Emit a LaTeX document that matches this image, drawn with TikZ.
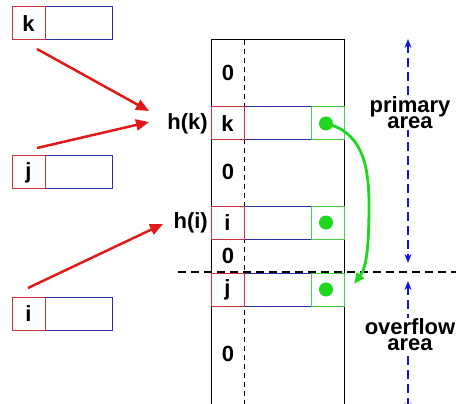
\documentclass[tikz,border=0pt]{standalone}
\usepackage{fontspec}
\setmainfont{Liberation Sans}
\usetikzlibrary{arrows.meta}
\definecolor{cred}{RGB}{205,50,60}
\definecolor{cblue}{RGB}{45,45,170}
\definecolor{cgreen}{RGB}{70,205,70}
\definecolor{ared}{RGB}{225,25,25}
\definecolor{dgreen}{RGB}{30,215,30}
\definecolor{dblue}{RGB}{20,20,215}
\begin{document}
\begin{tikzpicture}[x=1pt,y=-1pt,
  txt/.style={font=\fontsize{22}{22}\selectfont\bfseries, inner sep=0pt},
  areatxt/.style={font=\fontsize{22}{16.5}\selectfont\bfseries, inner sep=1pt, align=center, fill=white},
  keycell/.style={txt, draw=cred, line width=1pt, minimum width=33pt, minimum height=33pt},
  valcell/.style={draw=cblue, line width=1pt, minimum width=67pt, minimum height=33pt, inner sep=0pt},
  ptrcell/.style={draw=cgreen, line width=1pt, minimum width=33pt, minimum height=33pt, inner sep=0pt},
  dot/.style={circle, fill=dgreen, minimum size=14pt, inner sep=0pt},
  redarrow/.style={draw=ared, line width=2.5pt, -{Triangle[length=13pt,width=11pt]}},
  greenarrow/.style={draw=dgreen, line width=2.8pt, -{Triangle[length=11pt,width=9pt]}},
  bluearrow/.style={draw=dblue, line width=2.8pt, dash pattern=on 9pt off 5pt, {Stealth[length=9pt,width=7pt]}-{Stealth[length=9pt,width=7pt]}},
  sep/.style={draw=black, line width=2pt, dash pattern=on 8pt off 5pt},
  tableedge/.style={draw=black, line width=1pt},
  tabledash/.style={draw=black, line width=1pt, dash pattern=on 5pt off 4pt}
]
\useasboundingbox (0,0) rectangle (456,404);
\fill[white] (0,0) rectangle (456,404);

% left records
\node[valcell] (kval) at (78.5,23.5) {};
\node[keycell] (kkey) at (28.5,23.5) {k};
\node[valcell] (jval) at (78.5,172.5) {};
\node[keycell] (jkey) at (28.5,172.5) {j};
\node[valcell] (ival) at (78.5,313.5) {};
\node[keycell] (ikey) at (28.5,313.5) {i};

% table frame
\coordinate (tl) at (211,40);
\coordinate (tr) at (344,40);
\coordinate (bl) at (211,404);
\coordinate (br) at (344,404);
\coordinate (dt) at (244,40);
\coordinate (db) at (244,404);
\draw[tableedge] (bl) -- (tl) -- (tr) -- (br);
\draw[tabledash] (dt) -- (db);

% separator
\coordinate (sepl) at (178,272);
\coordinate (sepr) at (456,272);
\draw[sep] (sepl) -- (sepr);

% table rows
\node[valcell] (rkval) at (277.5,123.5) {};
\node[ptrcell] (rkptr) at (327.5,123.5) {};
\node[keycell] (rkkey) at (227.5,123.5) {k};
\node[valcell] (rival) at (277.5,222.5) {};
\node[ptrcell] (riptr) at (327.5,222.5) {};
\node[keycell] (rikey) at (227.5,222.5) {i};
\node[valcell] (rjval) at (277.5,289.5) {};
\node[ptrcell] (rjptr) at (327.5,289.5) {};
\node[keycell] (rjkey) at (227.5,289.5) {j};

\node[txt] (z1) at (228,73) {0};
\node[txt] (z2) at (228,172) {0};
\node[txt] (z3) at (228,256) {0};
\node[txt] (z4) at (228,354) {0};

\node[dot] (dk) at (326,123.5) {};
\node[dot] (di) at (326,222.5) {};
\node[dot] (dj) at (326,289.5) {};

% hash labels
\node[txt, anchor=east] (hk) at (208,123.5) {h(k)};
\node[txt, anchor=east] (hi) at (208,222.5) {h(i)};

% red arrows
\coordinate (ks) at (37,49);
\coordinate (ke) at (149,111);
\coordinate (js) at (37,148);
\coordinate (je) at (149,122);
\coordinate (is) at (28,288);
\coordinate (ie) at (163,224);
\draw[redarrow] (ks) -- (ke);
\draw[redarrow] (js) -- (je);
\draw[redarrow] (is) -- (ie);

% green chain arrow
\coordinate (gend) at (354,284);
\draw[greenarrow] (dk.center) .. controls (362,132) and (369,165) .. (369,205) .. controls (369,250) and (366,268) .. (gend);

% area arrows
\coordinate (pa1) at (408,39);
\coordinate (pa2) at (408,263);
\coordinate (oa1) at (408,281);
\coordinate (oa2) at (408,412);
\draw[bluearrow] (pa1) -- (pa2);
\draw[bluearrow] (oa1) -- (oa2);

\node[areatxt] (prim) at (410,112.85) {primary\\area};
\node[areatxt] (over) at (410,334.85) {overflow\\area};
\end{tikzpicture}
\end{document}
